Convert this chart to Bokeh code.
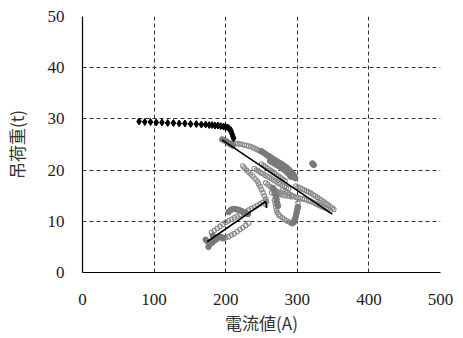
from bokeh.plotting import figure
from bokeh.models import FixedTicker, Range1d
from bokeh.embed import file_html
from bokeh.resources import INLINE

# Black diamonds series
dia_x = [79, 87, 95, 103, 111, 119, 127, 135, 143, 151, 159, 166, 172, 177, 181,
         185, 189, 193, 197, 200, 203, 205, 207, 208, 209, 210, 211]
dia_y = [29.5, 29.4, 29.4, 29.3, 29.3, 29.2, 29.2, 29.1, 29.1, 29.0, 29.0, 28.9,
         28.9, 28.8, 28.8, 28.7, 28.7, 28.6, 28.5, 28.4, 28.3, 28.1, 27.8, 27.4,
         27.0, 26.6, 26.2]

# Gray open circles (several bands of the measured cloud)
band_a_x = [208, 211, 214, 217, 220, 223, 226, 229, 232, 235, 238, 241, 244, 247, 250, 253]
band_a_y = [25.3, 25.3, 25.2, 25.2, 25.1, 25.0, 24.9, 24.8, 24.7, 24.6, 24.4, 24.2, 24.0, 23.8, 23.6, 23.4]

band_c_x = [240, 243, 246, 249, 252, 255, 258, 261, 264, 267, 270, 273, 276, 279, 282, 285, 288,
            250, 253, 256, 259, 262, 265, 268, 271, 274, 277, 280, 283,
            256, 259, 262, 265, 268, 271, 274, 277]
band_c_y = [20.3, 20.0, 19.8, 19.5, 19.3, 19.0, 18.8, 18.6, 18.3, 18.0, 17.8, 17.5, 17.3, 17.0, 16.8, 16.6, 16.4,
            21.2, 20.9, 20.6, 20.3, 20.0, 19.7, 19.4, 19.1, 18.8, 18.5, 18.2, 17.9,
            17.5, 17.2, 16.8, 16.5, 16.2, 15.9, 15.7, 15.5]

band_d_x = [224, 226, 229, 232, 235, 238, 241, 244, 246, 248, 250, 252, 254, 256, 257, 256]
band_d_y = [20.8, 20.4, 20.0, 19.6, 19.2, 18.8, 18.3, 17.8, 17.3, 16.8, 16.2, 15.6, 15.0, 14.4, 13.8, 13.3]

band_e_x = [298, 301, 304, 307, 310, 313, 316, 319, 322, 325, 328, 331, 334, 337, 340, 343, 346, 349, 351,
            280, 283, 286, 289, 292, 295, 298, 301, 304, 307, 310, 313, 316, 319, 322, 325, 328, 331,
            334, 337, 340, 343, 346]
band_e_y = [16.9, 16.7, 16.5, 16.3, 16.1, 15.9, 15.7, 15.5, 15.2, 15.0, 14.7, 14.4, 14.1, 13.8, 13.5, 13.2, 12.9, 12.6, 12.3,
            16.2, 15.9, 15.6, 15.3, 15.1, 14.9, 14.7, 14.6, 14.5, 14.4, 14.3, 14.2, 14.0, 13.9, 13.7, 13.5, 13.3, 13.1,
            12.9, 12.7, 12.5, 12.3, 12.1]

band_f_x = [264, 268, 272, 276, 280, 284, 288, 292, 268, 269, 270, 271, 272, 274,
            276, 279, 282, 285, 288, 291, 294, 296, 298, 299, 300, 301]
band_f_y = [15.6, 15.4, 15.3, 15.2, 15.1, 15.0, 14.9, 14.8, 14.2, 13.5, 12.8, 12.2, 11.7, 11.3,
            11.0, 10.7, 10.4, 10.1, 9.9, 9.7, 9.8, 10.5, 11.2, 12.0, 12.8, 13.6]

band_g_x = [180, 184, 188, 192, 196, 200, 204, 208, 212, 216, 220, 224, 228, 232, 236, 240, 244, 248, 252, 256,
            196, 200, 204, 208, 212, 216, 220, 224, 228, 232]
band_g_y = [7.8, 8.2, 8.6, 9.0, 9.4, 9.8, 10.1, 10.4, 10.7, 11.0, 11.3, 11.6, 11.9, 12.2, 12.5, 12.8, 13.1, 13.4, 13.7, 14.0,
            6.6, 6.8, 7.0, 7.3, 7.6, 8.0, 8.4, 8.8, 9.2, 9.6]

# Dark gray dense points
dark_x = [195, 198, 201, 204, 207, 210,
          250, 253, 256, 259, 262, 265, 268, 271, 274, 277, 280, 283, 286, 289, 292, 294, 296, 297,
          262, 265, 268, 271, 274, 277, 280, 283, 286, 289, 291,
          321, 323,
          293, 295, 297, 298, 299, 300, 301,
          266, 268, 270, 271, 272, 273,
          204, 207, 210, 213, 216, 219, 222, 225, 228, 231,
          172, 175, 178, 181, 184, 187, 190, 193, 196, 176, 182]
dark_y = [26.0, 25.8, 25.6, 25.3, 25.0, 24.8,
          23.7, 23.4, 23.1, 22.8, 22.6, 22.3, 22.0, 21.8, 21.5, 21.3, 21.0, 20.7, 20.4, 20.0, 19.6, 19.2, 18.8, 18.4,
          21.8, 21.5, 21.3, 21.0, 20.8, 20.5, 20.2, 19.9, 19.5, 19.1, 18.7,
          21.3, 21.0,
          9.6, 9.8, 10.4, 11.0, 11.6, 12.2, 12.8,
          16.5, 15.8, 15.0, 14.3, 13.6, 13.0,
          11.8, 12.2, 12.4, 12.4, 12.3, 12.2, 12.0, 11.8, 11.6, 11.4,
          6.4, 6.0, 5.6, 5.8, 6.2, 6.5, 6.8, 7.0, 6.8, 5.0, 7.2]

# Trend lines
fit1_x = [195, 349]
fit1_y = [25.9, 11.4]
fit2_x = [174, 256, 257]
fit2_y = [6.0, 13.9, 12.6]

x_ticks = [0, 100, 200, 300, 400, 500]
y_ticks = [0, 10, 20, 30, 40, 50]

circ_x = band_a_x + band_c_x + band_d_x + band_e_x + band_f_x + band_g_x
circ_y = band_a_y + band_c_y + band_d_y + band_e_y + band_f_y + band_g_y

p = figure(width=463, height=337, output_backend="svg", toolbar_location=None,
           x_range=Range1d(0, 500), y_range=Range1d(0, 50),
           min_border_left=81, min_border_right=23, min_border_top=16,
           min_border_bottom=65)

p.outline_line_color = None
p.background_fill_color = "white"
p.border_fill_color = "white"

for g in (p.xgrid[0], p.ygrid[0]):
    g.grid_line_color = "#333333"
    g.grid_line_dash = "4 3"
    g.grid_line_width = 1
p.xgrid[0].ticker = FixedTicker(ticks=x_ticks)
p.ygrid[0].ticker = FixedTicker(ticks=y_ticks)

for ax, ticks in ((p.xaxis[0], x_ticks), (p.yaxis[0], y_ticks)):
    ax.ticker = FixedTicker(ticks=ticks)
    ax.axis_line_color = "black"
    ax.axis_line_width = 1.2
    ax.major_tick_out = 0
    ax.major_tick_in = 0
    ax.minor_tick_out = 0
    ax.minor_tick_in = 0
    ax.major_label_text_font = "Liberation Serif"
    ax.major_label_text_font_size = "17px"
    ax.major_label_text_color = "#222222"
    ax.axis_label_text_font = "Noto Sans CJK JP"
    ax.axis_label_text_font_size = "17px"
    ax.axis_label_text_font_style = "normal"
    ax.axis_label_text_color = "#333333"

p.xaxis[0].axis_label = "電流値(A)"
p.yaxis[0].axis_label = "吊荷重(t)"
p.yaxis[0].major_label_standoff = 18
p.xaxis[0].major_label_standoff = 21
p.yaxis[0].axis_label_standoff = 16
p.xaxis[0].axis_label_standoff = 2

p.scatter(circ_x, circ_y, marker="circle", size=4.5, fill_color=None,
          line_color="#8a8a8a", line_width=1.1)
p.scatter(dark_x, dark_y, marker="circle", size=5.5, fill_color="#7a7a7a",
          line_color="#7a7a7a")
p.line(fit1_x, fit1_y, line_color="black", line_width=1.6)
p.line(fit2_x, fit2_y, line_color="black", line_width=1.6)
p.scatter(dia_x, dia_y, marker="diamond", size=7, fill_color="black",
          line_color="black")

open("out.html", "w").write(file_html(p, INLINE))
